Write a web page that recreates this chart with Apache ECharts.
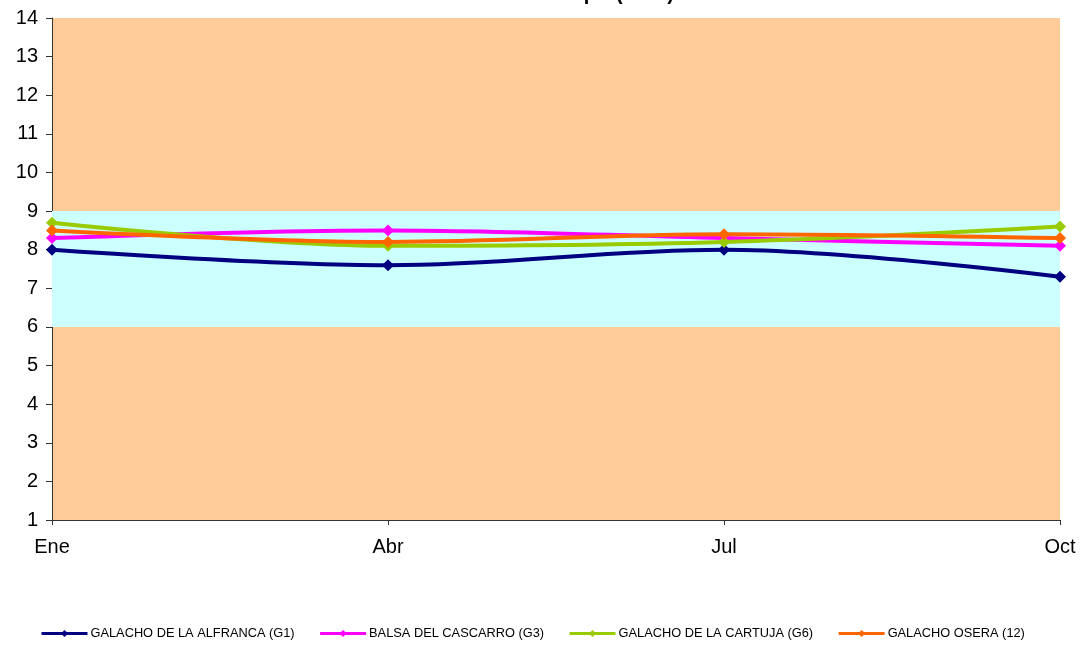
<!DOCTYPE html>
<html><head><meta charset="utf-8">
<script src="https://cdn.jsdelivr.net/npm/echarts@6/dist/echarts.min.js"></script>
<style>html,body{margin:0;padding:0;background:#fff}#c{width:1087px;height:646px}</style>
</head><body><div id="c"></div>
<script>
const categories = ["Ene", "Abr", "Jul", "Oct"];
const seriesNames = ["GALACHO DE LA ALFRANCA (G1)", "BALSA DEL CASCARRO (G3)", "GALACHO DE LA CARTUJA (G6)", "GALACHO OSERA (12)"];
const g1 = [8.0, 7.6, 8.0, 7.3];
const g3 = [8.3, 8.5, 8.3, 8.1];
const g6 = [8.7, 8.1, 8.2, 8.6];
const g12 = [8.5, 8.2, 8.4, 8.3];
const colors = ["#000080", "#FF00FF", "#99CC00", "#FF6600"];
const bandLow = 6, bandHigh = 9;
const yMin = 1, yMax = 14;

const data = [g1, g3, g6, g12];
const chart = echarts.init(document.getElementById('c'));
const series = data.map((d, i) => ({
  name: seriesNames[i], type: 'line', data: d, smooth: 0.35,
  symbol: 'diamond', symbolSize: 12, color: colors[i],
  lineStyle: {width: 4, color: colors[i]}, itemStyle: {color: colors[i]},
  z: 3 + i
}));
series.push({
  type: 'line', data: [], silent: true, z: 1,
  markArea: {silent: true, itemStyle: {color: '#CCFFFF', opacity: 1},
    data: [[{yAxis: bandLow}, {yAxis: bandHigh}]]}
});
chart.setOption({
  animation: false,
  backgroundColor: '#fff',
  title: {text: 'Evolución del pH (2008)', left: 556, textAlign: 'center', top: -21,
    textStyle: {fontFamily: 'Liberation Sans, Arial', fontSize: 20, fontWeight: 'bold', color: '#000'}},
  grid: {left: 52, right: 27, top: 18, bottom: 126, show: true, backgroundColor: '#FFCC99', borderWidth: 0},
  xAxis: {type: 'category', data: categories, boundaryGap: false,
    axisLine: {lineStyle: {color: '#333', width: 1}},
    axisTick: {show: true, alignWithLabel: true, length: 5, lineStyle: {color: '#333'}},
    axisLabel: {fontFamily: 'Liberation Sans, Arial', fontSize: 20, color: '#000', margin: 17},
    splitLine: {show: false}},
  yAxis: {type: 'value', min: yMin, max: yMax, interval: 1,
    axisLine: {show: true, lineStyle: {color: '#333', width: 1}},
    axisTick: {show: true, length: 6, lineStyle: {color: '#333'}},
    axisLabel: {fontFamily: 'Liberation Sans, Arial', fontSize: 20, color: '#000', margin: 14},
    splitLine: {show: false}},
  legend: {bottom: 6, left: 40, padding: 0, itemWidth: 46, itemHeight: 9, itemGap: 24,
    data: seriesNames, lineStyle: {width: 3},
    textStyle: {fontFamily: 'Liberation Sans, Arial', fontSize: 12.8, color: '#000', padding: [0,0,0,-2]}},
  series: series
});
</script></body></html>
